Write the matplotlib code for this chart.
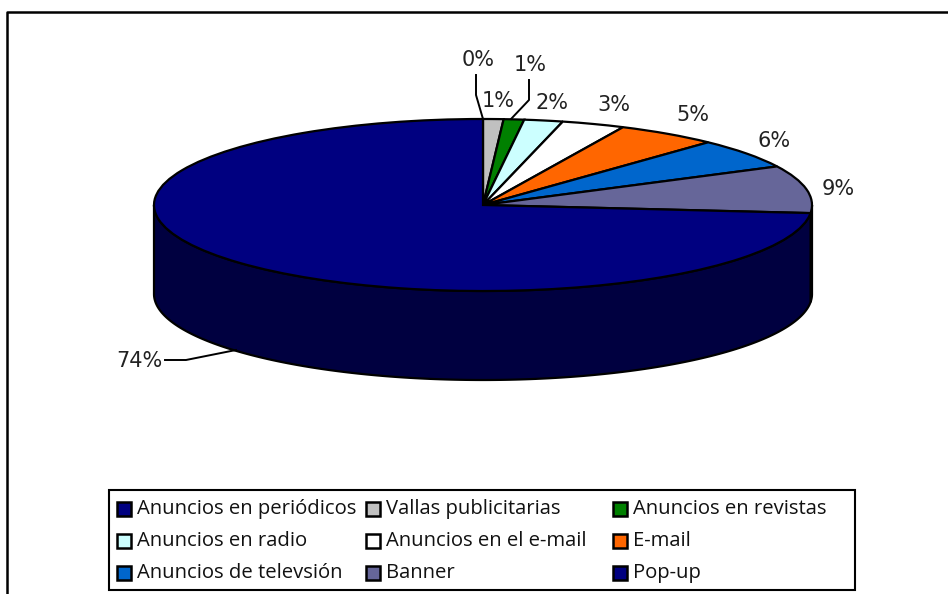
import numpy as np
import matplotlib
matplotlib.use("Agg")
import matplotlib.pyplot as plt
from matplotlib.patches import Rectangle

plt.rcParams['font.family'] = ['Open Sans', 'DejaVu Sans']

categories = ["Anuncios en periódicos", "Vallas publicitarias", "Anuncios en revistas",
              "Anuncios en radio", "Anuncios en el e-mail", "E-mail",
              "Anuncios de televsión", "Banner", "Pop-up"]
values = [0.0, 1.0, 1.0, 1.9, 3.1, 5.0, 5.6, 8.9, 73.5]
pct_labels = ["0%", "1%", "1%", "2%", "3%", "5%", "6%", "9%", "74%"]
colors = ["#000080", "#C0C0C0", "#008000", "#CCFFFF", "#FFFFFF",
          "#FF6600", "#0066CC", "#666699", "#000080"]
wall_colors = ["#000040", "#606060", "#004000", "#668080", "#808080",
               "#803300", "#003366", "#333366", "#000040"]

W, H = 948, 594
cx, cy, rx, ry = 483, 205, 329, 86
depth = 89 / ry
LW = 1.6

fig = plt.figure(figsize=(W / 100, H / 100), dpi=100)

# pie axes: unit circle squashed to the ellipse of the top face
ax = fig.add_axes([0, 0, 1, 1])
edges = np.cumsum([0] + values) / sum(values) * 2 * np.pi
for i in range(len(values)):
    a = max(edges[i], np.pi / 2)
    b = min(edges[i + 1], 3 * np.pi / 2)
    if b <= a:
        continue
    t = np.linspace(a, b, 200)
    xs = np.sin(t)
    ys = np.cos(t)
    ax.fill(np.r_[xs, xs[::-1]], np.r_[ys, ys[::-1] - depth],
            facecolor=wall_colors[i], edgecolor="black", lw=LW)
ax.pie(values, colors=colors, startangle=90, counterclock=False,
       wedgeprops=dict(edgecolor="black", linewidth=LW))
ax.set_aspect("auto")
ax.set_xlim((0 - cx) / rx, (W - cx) / rx)
ax.set_ylim((cy - H) / ry, cy / ry)
ax.axis("off")

# overlay in pixel coordinates for frame, labels and legend
ov = fig.add_axes([0, 0, 1, 1], facecolor="none")
ov.set_xlim(0, W)
ov.set_ylim(H, 0)
ov.axis("off")

# chart frame is cut off on the right and at the bottom
ov.plot([7, 7, 960], [600, 11.5, 11.5], color="black", lw=1.8)

label_pos = [(478, 60), (498, 101), (530, 65), (552, 103), (614, 105),
             (693, 115), (774, 141), (838, 189), (139, 361)]
for s, (x, y) in zip(pct_labels, label_pos):
    ov.text(x, y, s, fontsize=15, family="DejaVu Sans", color="#222222",
            ha="center", va="center")

leaders = [([476, 476, 483], [75, 95, 119]),
           ([529, 529, 511], [80, 100, 119]),
           ([165, 186, 236], [360, 360, 350])]
for lx, ly in leaders:
    ov.plot(lx, ly, color="black", lw=1.4)

ov.add_patch(Rectangle((109.5, 490), 746, 100, facecolor="white", edgecolor="black", lw=1.5))
col_x = [117, 366, 613]
row_y = [509, 541, 573]
for i, name in enumerate(categories):
    x = col_x[i % 3]
    y = row_y[i // 3]
    ov.add_patch(Rectangle((x, y - 7), 14, 14, facecolor=colors[i], edgecolor="black", lw=1.8))
    ov.text(x + 20, y, name, fontsize=14.6, color="#111111", ha="left", va="center")

fig.savefig("out.png", dpi=100)
